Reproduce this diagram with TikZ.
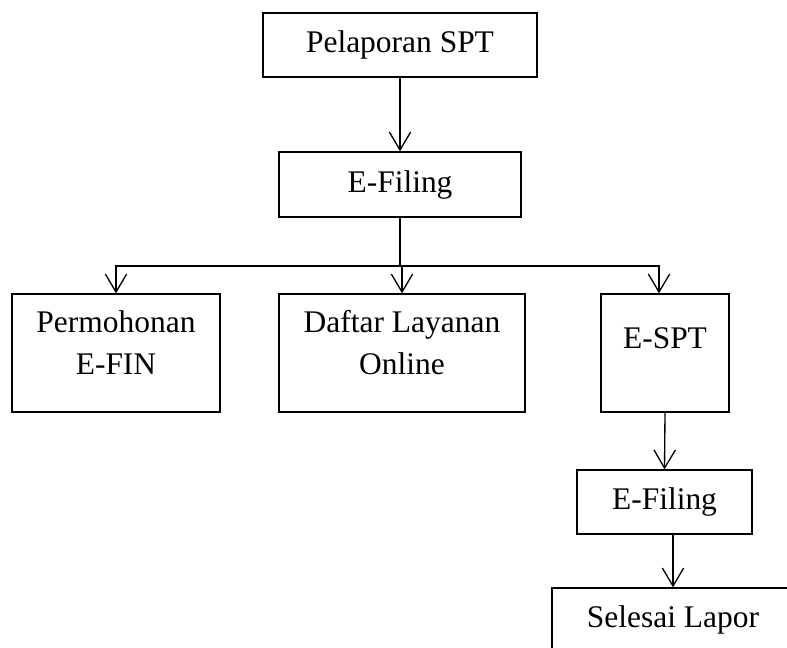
\documentclass[tikz,border=0pt]{standalone}
\usepackage{fontspec}
\setmainfont{Liberation Serif}
\usetikzlibrary{arrows.meta}
\tikzset{
  kotak/.style={draw, line width=0.5pt, align=center, inner sep=2pt,
    font=\fontsize{11.8pt}{15.75pt}\selectfont},
}
\begin{document}
\begin{tikzpicture}[x=0.375pt,y=-0.375pt,>={Straight Barb[length=6.75pt,width=8pt]},line width=0.5pt]
   \useasboundingbox (0,0) rectangle (787,648);
   % ボックス
   \node[kotak,minimum width=102.75pt,minimum height=24pt] (pelaporan) at (400,45) {Pelaporan SPT};
   \node[kotak,minimum width=90.75pt,minimum height=24.4pt] (efiling) at (400,184.5) {E-Filing};
   \node[kotak,minimum width=78pt,minimum height=44.25pt,text depth=8pt] (permohonan) at (116,353) {Permohonan\\E-FIN};
   \node[kotak,minimum width=92.25pt,minimum height=44.25pt,text depth=8pt] (daftar) at (402,353) {Daftar Layanan\\Online};
   \node[kotak,minimum width=48pt,minimum height=44.25pt,text depth=11.25pt] (espt) at (665,353) {E-SPT};
   \node[kotak,minimum width=65.6pt,minimum height=24pt] (efiling2) at (664.5,502) {E-Filing};
   \node[kotak,minimum width=90.75pt,minimum height=24pt] (selesai) at (673,620) {Selesai Lapor};

   % 矢印
   \draw[->] (pelaporan) -- (efiling);
   \coordinate (cabang) at (400,266);
   \draw (efiling.south) -- (cabang);
   \draw[->] (cabang) -| (permohonan.north);
   \draw[->] (cabang) -| (daftar.north);
   \draw[->] (cabang) -| ([xshift=-2.25pt]espt.north);
   \draw[->] (espt.south) -- (efiling2.north);
   \draw[->] (efiling2.south -| selesai) -- (selesai.north);
\end{tikzpicture}
\end{document}
